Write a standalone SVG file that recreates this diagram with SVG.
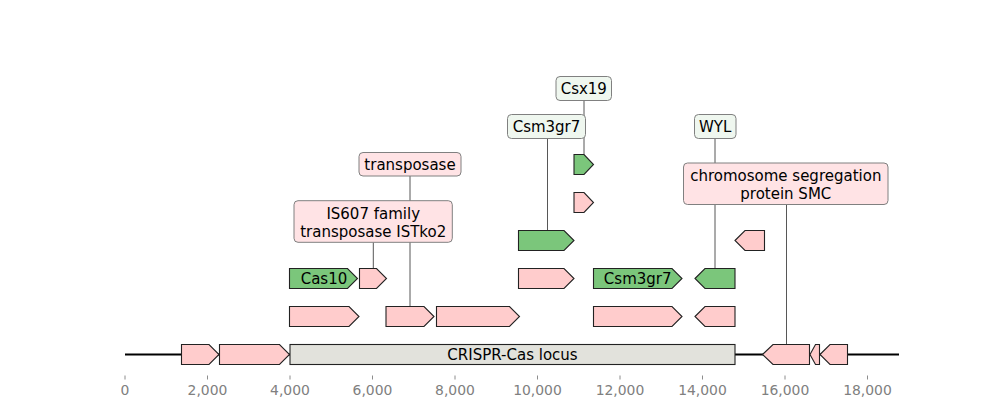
<svg xmlns="http://www.w3.org/2000/svg" width="1000" height="420" viewBox="0 0 1000 420">
<style>
.pk{fill:#ffcccc;stroke:#222;stroke-width:1.1;stroke-linejoin:miter}
.gr{fill:#7bc67b;stroke:#222;stroke-width:1.1}
.loc{fill:#e2e2dc;stroke:#222;stroke-width:1.1}
.lb{font-family:"DejaVu Sans",sans-serif;font-size:15px;fill:#000;text-anchor:middle}
.fl{font-family:"DejaVu Sans",sans-serif;font-size:15px;fill:#000;text-anchor:middle}
.tk{font-family:"DejaVu Sans",sans-serif;font-size:13.9px;fill:#808080;text-anchor:middle}
.bg{fill:#eff7ef;stroke:#808080;stroke-width:1}
.bp{fill:#ffe3e5;stroke:#808080;stroke-width:1}
.cn{stroke:#444;stroke-width:0.9;fill:none}
</style>
<rect width="1000" height="420" fill="#fff"/>
<g id="axis">
<g stroke="#808080" stroke-width="0.9">
<line x1="125" y1="375.5" x2="125" y2="379.5"/>
<line x1="207.5" y1="375.5" x2="207.5" y2="379.5"/>
<line x1="290" y1="375.5" x2="290" y2="379.5"/>
<line x1="372.5" y1="375.5" x2="372.5" y2="379.5"/>
<line x1="455" y1="375.5" x2="455" y2="379.5"/>
<line x1="537.5" y1="375.5" x2="537.5" y2="379.5"/>
<line x1="620" y1="375.5" x2="620" y2="379.5"/>
<line x1="702.5" y1="375.5" x2="702.5" y2="379.5"/>
<line x1="785" y1="375.5" x2="785" y2="379.5"/>
<line x1="867.5" y1="375.5" x2="867.5" y2="379.5"/>
</g>
<text class="tk" x="125" y="395">0</text>
<text class="tk" x="207.5" y="395">2,000</text>
<text class="tk" x="290" y="395">4,000</text>
<text class="tk" x="372.5" y="395">6,000</text>
<text class="tk" x="455" y="395">8,000</text>
<text class="tk" x="537.5" y="395">10,000</text>
<text class="tk" x="620" y="395">12,000</text>
<text class="tk" x="702.5" y="395">14,000</text>
<text class="tk" x="785" y="395">16,000</text>
<text class="tk" x="867.5" y="395">18,000</text>
</g>
<g id="connectors">
<line class="cn" x1="584" y1="100.5" x2="584" y2="154.5"/>
<line class="cn" x1="547.5" y1="138.5" x2="547.5" y2="230.5"/>
<line class="cn" x1="715" y1="138.5" x2="715" y2="268.5"/>
<line class="cn" x1="786.5" y1="204.5" x2="786.5" y2="344.5"/>
<line class="cn" x1="410" y1="176" x2="410" y2="306.5"/>
<line class="cn" x1="373.3" y1="242.3" x2="373.3" y2="268.5"/>
</g>
<g id="sequence-line">
<line x1="125" y1="354.5" x2="899" y2="354.5" stroke="#000" stroke-width="1.8"/>
</g>
<g id="row0">
<polygon class="pk" points="181.5,344.5 209,344.5 219,354.5 209,364.5 181.5,364.5"/>
<polygon class="pk" points="219.5,344.5 279.5,344.5 289.5,354.5 279.5,364.5 219.5,364.5"/>
<g id="locus"><rect class="loc" x="290" y="344.5" width="445" height="20"/>
<text class="fl" x="512.5" y="360">CRISPR-Cas locus</text></g>
<polygon class="pk" points="762.5,354.5 773,344.5 809.5,344.5 809.5,364.5 773,364.5"/>
<polygon class="pk" points="810,354.5 815.5,344.5 819.5,344.5 819.5,364.5 815.5,364.5"/>
<polygon class="pk" points="820,354.5 830,344.5 847.5,344.5 847.5,364.5 830,364.5"/>
</g>
<g id="row1">
<polygon class="pk" points="289.5,306.5 349,306.5 359,316.5 349,326.5 289.5,326.5"/>
<polygon class="pk" points="386,306.5 424,306.5 434,316.5 424,326.5 386,326.5"/>
<polygon class="pk" points="436.5,306.5 509.5,306.5 519.5,316.5 509.5,326.5 436.5,326.5"/>
<polygon class="pk" points="593.5,306.5 672,306.5 682,316.5 672,326.5 593.5,326.5"/>
<polygon class="pk" points="695,316.5 705,306.5 735,306.5 735,326.5 705,326.5"/>
</g>
<g id="row2">
<g id="cas10"><polygon class="gr" points="289.5,268.5 347.5,268.5 357.5,278.5 347.5,288.5 289.5,288.5"/>
<text class="fl" x="324" y="284">Cas10</text></g>
<polygon class="pk" points="359.5,268.5 376.5,268.5 386.5,278.5 376.5,288.5 359.5,288.5"/>
<polygon class="pk" points="518.5,268.5 564,268.5 574,278.5 564,288.5 518.5,288.5"/>
<g id="csm3gr7-b"><polygon class="gr" points="593.5,268.5 672,268.5 682,278.5 672,288.5 593.5,288.5"/>
<text class="fl" x="637.7" y="284">Csm3gr7</text></g>
<polygon class="gr" points="695,278.5 705,268.5 735,268.5 735,288.5 705,288.5"/>
</g>
<g id="row3">
<polygon class="gr" points="518.5,230.5 564,230.5 574,240.5 564,250.5 518.5,250.5"/>
<polygon class="pk" points="735,240.5 745,230.5 764.5,230.5 764.5,250.5 745,250.5"/>
</g>
<g id="row4">
<polygon class="pk" points="574,192.5 584,192.5 593.5,202.5 584,212.5 574,212.5"/>
</g>
<g id="row5">
<polygon class="gr" points="574,154.5 584,154.5 593.5,164.5 584,174.5 574,174.5"/>
</g>
<g id="label-csx19">
<rect class="bg" x="556" y="76.5" width="55.5" height="24" rx="4"/>
<text class="lb" x="583.8" y="93.7">Csx19</text>
</g>
<g id="label-csm3gr7">
<rect class="bg" x="507.5" y="114.5" width="78" height="24" rx="4"/>
<text class="lb" x="546.5" y="131.7">Csm3gr7</text>
</g>
<g id="label-wyl">
<rect class="bg" x="694.5" y="114.5" width="41.5" height="24" rx="4"/>
<text class="lb" x="715.2" y="131.7">WYL</text>
</g>
<g id="label-smc">
<rect class="bp" x="683.5" y="163" width="204.5" height="41.5" rx="4"/>
<text class="lb" x="785.8" y="180.8">chromosome segregation</text>
<text class="lb" x="785.8" y="198.8">protein SMC</text>
</g>
<g id="label-transposase">
<rect class="bp" x="359" y="152.5" width="102" height="23.5" rx="4"/>
<text class="lb" x="410" y="169.8">transposase</text>
</g>
<g id="label-is607">
<rect class="bp" x="294" y="200.7" width="158.3" height="41.6" rx="4"/>
<text class="lb" x="373.2" y="218.5">IS607 family</text>
<text class="lb" x="373.2" y="236.5">transposase ISTko2</text>
</g>
</svg>
